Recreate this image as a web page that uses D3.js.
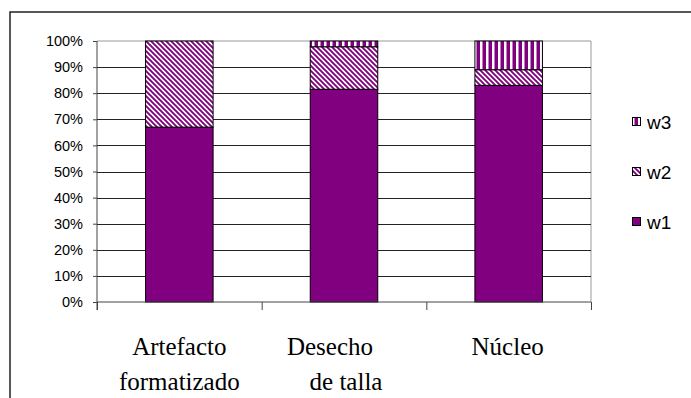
<!DOCTYPE html>
<html>
<head>
<meta charset="utf-8">
<script src="https://cdn.jsdelivr.net/npm/d3@7"></script>
<style>
  html, body { margin: 0; padding: 0; background: #fff; }
  svg { display: block; }
</style>
</head>
<body>
<svg id="chart" width="691" height="398"></svg>
<script>
// ---- data ----
const categories = ["Artefacto formatizado", "Desecho de talla", "Núcleo"];
const categoryLines = [["Artefacto", "formatizado"], ["Desecho", "de talla"], ["Núcleo"]];
const seriesNames = ["w1", "w2", "w3"];
const w1 = [67, 81.5, 83];
const w2 = [33, 16.3, 6];
const w3 = [0, 2.2, 11];
const yTicks = [0, 10, 20, 30, 40, 50, 60, 70, 80, 90, 100];
const legendOrder = ["w3", "w2", "w1"];

// ---- layout ----
const svg = d3.select("#chart");
const plot = { left: 97, right: 591, top: 41, bottom: 302 };
const purple = "#800080";

const rows = categories.map((c, i) => ({ cat: c, w1: w1[i], w2: w2[i], w3: w3[i] }));
const stacked = d3.stack().keys(seriesNames)(rows);

const x = d3.scaleBand().domain(categories).range([plot.left, plot.right]).paddingInner(0).paddingOuter(0);
const y = d3.scaleLinear().domain([0, 100]).range([plot.bottom, plot.top]);
const barFrac = 0.41;

// ---- patterns ----
const defs = svg.append("defs");
const P = 5;
const pDiag = defs.append("pattern").attr("id", "pat-w2")
  .attr("patternUnits", "userSpaceOnUse").attr("width", P).attr("height", P);
pDiag.append("rect").attr("width", P).attr("height", P).attr("fill", "#fff");
pDiag.append("path").attr("d", `M-1,-1 L${P+1},${P+1} M-1,${P-1} L1,${P+1} M${P-1},-1 L${P+1},1`)
  .attr("stroke", purple).attr("stroke-width", 1.9);

const pVert = defs.append("pattern").attr("id", "pat-w3")
  .attr("patternUnits", "userSpaceOnUse").attr("width", 6).attr("height", 6);
pVert.append("rect").attr("width", 6).attr("height", 6).attr("fill", purple);
pVert.append("rect").attr("x", 0).attr("width", 2.5).attr("height", 6).attr("fill", "#fff");

const fills = { w1: purple, w2: "url(#pat-w2)", w3: "url(#pat-w3)" };

// ---- outer frame ----
svg.append("path").attr("d", "M10,398 L10,12 L691,12")
  .attr("fill", "none").attr("stroke", "#222").attr("stroke-width", 1.5);

// ---- plot border (gray) ----
svg.append("path")
  .attr("d", `M${plot.left},${plot.top} L${plot.right},${plot.top} L${plot.right},${plot.bottom}`)
  .attr("fill", "none").attr("stroke", "#999").attr("stroke-width", 1);

// ---- gridlines ----
svg.append("g").selectAll("line").data(yTicks.filter(d => d > 0 && d < 100)).join("line")
  .attr("x1", plot.left).attr("x2", plot.right)
  .attr("y1", d => Math.round(y(d)) + 0.5).attr("y2", d => Math.round(y(d)) + 0.5)
  .attr("stroke", "#222").attr("stroke-width", 1);

// ---- bars ----
svg.append("g").selectAll("g").data(stacked).join("g")
  .attr("fill", d => fills[d.key])
  .selectAll("rect").data(d => d.filter(s => s[1] - s[0] > 0)).join("rect")
  .attr("x", d => x(d.data.cat) + x.bandwidth() * (1 - barFrac) / 2)
  .attr("width", x.bandwidth() * barFrac)
  .attr("y", d => y(d[1]))
  .attr("height", d => y(d[0]) - y(d[1]))
  .attr("stroke", "#000").attr("stroke-width", 1);

// ---- y axis ----
const yAxis = svg.append("g").attr("transform", `translate(${plot.left},0)`)
  .call(d3.axisLeft(y).tickValues(yTicks).tickFormat(d => d + "%").tickSize(4).tickPadding(10));
yAxis.select(".domain").attr("stroke", "#444").attr("d", `M0,${plot.top}V${plot.bottom + 8}`);
yAxis.selectAll(".tick line").attr("stroke", "#444");
yAxis.selectAll(".tick text").attr("font-family", "'Liberation Sans', Arial, sans-serif")
  .attr("font-size", 14.5).attr("fill", "#000");

// ---- x axis ----
const xb = d3.scaleLinear().domain([0, categories.length]).range([plot.left, plot.right]);
const xAxis = svg.append("g").attr("transform", `translate(0,${plot.bottom})`)
  .call(d3.axisBottom(xb).tickValues(d3.range(categories.length + 1)).tickSize(8).tickFormat(""));
xAxis.select(".domain").attr("stroke", "#444").attr("d", `M${plot.left},0H${plot.right}`);
xAxis.selectAll(".tick line").attr("stroke", "#444");

const lineDx = [[0, 0], [-14, 2], [-1]];
const lbl = svg.append("g").attr("font-family", "'Liberation Serif', 'Times New Roman', serif")
  .attr("font-size", 25).attr("fill", "#000").attr("text-anchor", "middle");
categories.forEach((c, i) => {
  const cx = x(c) + x.bandwidth() / 2;
  categoryLines[i].forEach((ln, j) => {
    lbl.append("text").attr("x", cx + lineDx[i][j]).attr("y", 355 + j * 35).text(ln);
  });
});

// ---- legend ----
const leg = svg.append("g").attr("transform", "translate(632,0)");
legendOrder.forEach((k, i) => {
  const cy = 122 + i * 50;
  leg.append("rect").attr("x", 0.5).attr("y", cy - 4.5).attr("width", 8).attr("height", 8)
    .attr("fill", fills[k]).attr("stroke", "#000").attr("stroke-width", 1);
  leg.append("text").attr("x", 15).attr("y", cy).attr("dy", "0.35em")
    .attr("font-family", "'Liberation Sans', Arial, sans-serif").attr("font-size", 19)
    .attr("fill", "#000").text(k);
});
</script>
</body>
</html>
